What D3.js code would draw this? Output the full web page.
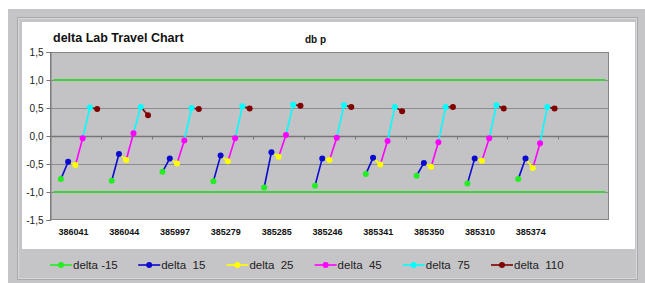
<!DOCTYPE html>
<html>
<head>
<meta charset="utf-8">
<script src="https://cdn.jsdelivr.net/npm/d3@7"></script>
<style>
  body { margin: 0; background: #fff; }
  svg { display: block; font-family: "Liberation Sans", Arial, sans-serif; }
</style>
</head>
<body>
<div id="chart"></div>
<script>
// data
const categories = ["386041", "386044", "385997", "385279", "385285", "385246", "385341", "385350", "385310", "385374", ""];
const seriesNames = ["delta -15", "delta  15", "delta  25", "delta  45", "delta  75", "delta  110"];
const seriesColors = ["#22ee22", "#0a0ad0", "#ffff00", "#ff00ff", "#00ffff", "#800000"];
const deltaM15 = [-0.77, -0.80, -0.64, -0.81, -0.92, -0.89, -0.68, -0.71, -0.85, -0.77];
const delta15  = [-0.46, -0.32, -0.40, -0.35, -0.29, -0.40, -0.39, -0.48, -0.40, -0.40];
const delta25  = [-0.52, -0.43, -0.49, -0.45, -0.37, -0.43, -0.51, -0.55, -0.44, -0.57];
const delta45  = [-0.04, 0.05, -0.08, -0.04, 0.02, -0.03, -0.09, -0.11, -0.04, -0.13];
const delta75  = [0.51, 0.52, 0.50, 0.53, 0.56, 0.55, 0.52, 0.52, 0.55, 0.52];
const delta110 = [0.48, 0.37, 0.48, 0.49, 0.54, 0.52, 0.44, 0.52, 0.49, 0.49];
const yTicks = [1.5, 1.0, 0.5, 0.0, -0.5, -1.0, -1.5];
const limits = [1.0, -1.0];

const series = [deltaM15, delta15, delta25, delta45, delta75, delta110];

const W = 645, H = 283;
const plot = { left: 50, top: 52, right: 609, bottom: 220 };

const svg = d3.select("#chart").append("svg")
    .attr("width", W)
    .attr("height", H);

// outer frame
svg.append("rect").attr("x", 8).attr("y", 9).attr("width", W - 8).attr("height", H - 9).attr("fill", "#c5c4c7");
svg.append("rect").attr("x", 17.5).attr("y", 17.5).attr("width", 620).attr("height", 262)
    .attr("fill", "none").attr("stroke", "#a9a8ab");
svg.append("rect").attr("x", 18.5).attr("y", 18.5).attr("width", 618).attr("height", 260)
    .attr("fill", "none").attr("stroke", "#d8d7da");
svg.append("rect").attr("x", 22).attr("y", 22).attr("width", 613).attr("height", 227).attr("fill", "#fff");

// scales
const x = d3.scaleBand().domain(categories).range([plot.left, plot.right]);
const slot = d3.scaleBand().domain(d3.range(7)).range([0, x.bandwidth()]);
const px = (ci, si) => x(categories[ci]) + slot(si + 1) + slot.bandwidth() / 2;
const y = d3.scaleLinear().domain([-1.5, 1.5]).range([plot.bottom, plot.top]);

// plot area
svg.append("rect")
    .attr("x", plot.left).attr("y", plot.top)
    .attr("width", plot.right - plot.left).attr("height", plot.bottom - plot.top)
    .attr("fill", "#c3c2c5");

// gridlines
svg.append("g").selectAll("line")
    .data(yTicks.filter(d => d !== 0 && d !== -1.5 && d !== 1.5))
    .join("line")
    .attr("x1", plot.left).attr("x2", plot.right)
    .attr("y1", d => Math.round(y(d)) + 0.5).attr("y2", d => Math.round(y(d)) + 0.5)
    .attr("stroke", "#8c8b8e");

// border
svg.append("rect")
    .attr("x", plot.left + 0.5).attr("y", plot.top + 0.5)
    .attr("width", plot.right - plot.left - 1).attr("height", plot.bottom - plot.top - 1)
    .attr("fill", "none").attr("stroke", "#858487");

// y axis
const yAxis = svg.append("g")
    .attr("transform", `translate(${plot.left + 0.5},0)`)
    .call(d3.axisLeft(y).tickValues(yTicks).tickSize(4).tickPadding(3)
        .tickFormat(d => d3.format(".1f")(d).replace(".", ",").replace("−", "-")));
yAxis.select(".domain").attr("stroke", "#777");
yAxis.selectAll(".tick line").attr("stroke", "#777");
yAxis.selectAll("text").attr("font-size", 10).attr("fill", "#222");

// category axis at zero
const x0 = Math.round(y(0)) + 0.5;
svg.append("line")
    .attr("x1", plot.left).attr("x2", plot.right)
    .attr("y1", x0).attr("y2", x0)
    .attr("stroke", "#777").attr("stroke-width", 1.5);
svg.append("g").selectAll("line")
    .data(categories.slice(1))
    .join("line")
    .attr("x1", d => Math.round(x(d)) + 0.5).attr("x2", d => Math.round(x(d)) + 0.5)
    .attr("y1", x0).attr("y2", x0 + 3)
    .attr("stroke", "#777");

// category labels
svg.append("g").selectAll("text")
    .data(categories.filter(d => d))
    .join("text")
    .attr("x", d => x(d) + x.bandwidth() / 2 - 2)
    .attr("y", 235)
    .attr("text-anchor", "middle")
    .attr("font-size", 9)
    .attr("font-weight", "bold")
    .attr("fill", "#111")
    .text(d => d);

// limit lines
const lx1 = x(categories[0]) + slot(0) + slot.bandwidth() / 2;
const lx2 = x(categories[categories.length - 1]) + slot(6) + slot.bandwidth() / 2;
svg.append("g").selectAll("line")
    .data(limits)
    .join("line")
    .attr("x1", lx1).attr("x2", lx2)
    .attr("y1", d => y(d)).attr("y2", d => y(d))
    .attr("stroke", "#3fd13f").attr("stroke-width", 2);

// segments: each series draws from the previous series' point to its own
const segs = [];
for (let s = 1; s < series.length; s++) {
    for (let c = 0; c < series[s].length; c++) {
        segs.push({ s, x1: px(c, s - 1), y1: y(series[s - 1][c]), x2: px(c, s), y2: y(series[s][c]) });
    }
}
svg.append("g").selectAll("line")
    .data(segs)
    .join("line")
    .attr("x1", d => d.x1).attr("y1", d => d.y1)
    .attr("x2", d => d.x2).attr("y2", d => d.y2)
    .attr("stroke", d => seriesColors[d.s])
    .attr("stroke-width", 1.6);

// markers
series.forEach((vals, s) => {
    svg.append("g").selectAll("circle")
        .data(vals)
        .join("circle")
        .attr("cx", (d, c) => px(c, s))
        .attr("cy", d => y(d))
        .attr("r", 3)
        .attr("fill", seriesColors[s]);
});

// titles
svg.append("text").attr("x", 53).attr("y", 42)
    .attr("font-size", 12.5).attr("font-weight", "bold").attr("fill", "#111")
    .text("delta Lab Travel Chart");
svg.append("text").attr("x", 305).attr("y", 43)
    .attr("font-size", 10).attr("font-weight", "bold").attr("fill", "#111")
    .text("db p");

// legend
const legend = svg.append("g").selectAll("g")
    .data(seriesNames)
    .join("g")
    .attr("transform", (d, i) => `translate(${50 + i * 88.2},265)`);
legend.append("line")
    .attr("x1", 0).attr("x2", 22).attr("y1", 0).attr("y2", 0)
    .attr("stroke", (d, i) => seriesColors[i]).attr("stroke-width", 1.6);
legend.append("circle")
    .attr("cx", 11).attr("cy", 0).attr("r", 3)
    .attr("fill", (d, i) => seriesColors[i]);
legend.append("text")
    .attr("x", 23).attr("y", 4)
    .attr("font-size", 11.5).attr("fill", "#222")
    .attr("xml:space", "preserve")
    .style("white-space", "pre")
    .text(d => d);
</script>
</body>
</html>
